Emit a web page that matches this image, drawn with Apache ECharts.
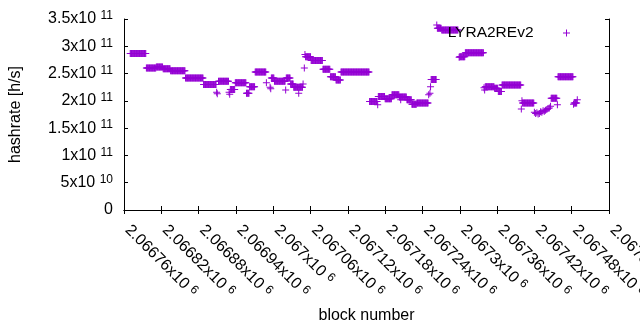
<!DOCTYPE html>
<html>
<head>
<meta charset="utf-8">
<script src="https://cdn.jsdelivr.net/npm/echarts@6/dist/echarts.min.js"></script>
<style>
  html, body { margin: 0; padding: 0; background: #fff; }
  #chart { width: 640px; height: 330px; }
</style>
</head>
<body>
<div id="chart"></div>
<script>
// hashrate plateaus: first block, last block, hashrate in 1e11 h/s
const RUN_START = [
  2066770, 2066796, 2066812, 2066823, 2066835, 2066859, 2066888, 2066909, 2066910, 2066912,
  2066929, 2066930, 2066931, 2066939, 2066957, 2066962, 2066971, 2066989, 2066995, 2066996,
  2066997, 2067002, 2067020, 2067021, 2067028, 2067033, 2067041, 2067048, 2067050, 2067051,
  2067052, 2067061, 2067080, 2067092, 2067101, 2067109, 2067155, 2067168, 2067169, 2067180,
  2067191, 2067203, 2067205, 2067215, 2067223, 2067231, 2067250, 2067252, 2067253, 2067254,
  2067263, 2067264, 2067271, 2067299, 2067300, 2067309, 2067339, 2067340, 2067341, 2067356,
  2067362, 2067368, 2067399, 2067400, 2067401, 2067420, 2067422, 2067424, 2067426, 2067428,
  2067430, 2067432, 2067434, 2067436, 2067438, 2067440, 2067442, 2067444, 2067446, 2067447,
  2067457, 2067458, 2067483, 2067484, 2067489
]
const RUN_END = [
  2066795, 2066811, 2066822, 2066834, 2066858, 2066887, 2066908, 2066909, 2066910, 2066928,
  2066929, 2066930, 2066938, 2066956, 2066961, 2066970, 2066988, 2066989, 2066995, 2066996,
  2067001, 2067019, 2067020, 2067027, 2067032, 2067047, 2067041, 2067048, 2067050, 2067051,
  2067060, 2067079, 2067091, 2067100, 2067108, 2067154, 2067167, 2067168, 2067179, 2067190,
  2067202, 2067214, 2067205, 2067222, 2067230, 2067249, 2067250, 2067252, 2067253, 2067262,
  2067263, 2067270, 2067297, 2067299, 2067308, 2067338, 2067339, 2067340, 2067355, 2067361,
  2067367, 2067398, 2067399, 2067400, 2067419, 2067420, 2067422, 2067424, 2067426, 2067428,
  2067430, 2067432, 2067434, 2067436, 2067438, 2067440, 2067442, 2067444, 2067446, 2067456,
  2067457, 2067482, 2067483, 2067488, 2067489
]
const RUN_VALUE = [
  2.87, 2.60, 2.62, 2.59, 2.55, 2.42, 2.30, 2.16, 2.13, 2.36,
  2.16, 2.12, 2.21, 2.33, 2.14, 2.26, 2.53, 2.33, 2.25, 2.22,
  2.42, 2.36, 2.20, 2.42, 2.31, 2.25, 2.14, 2.31, 2.60, 2.85,
  2.81, 2.74, 2.58, 2.44, 2.38, 2.53, 1.99, 1.93, 2.08, 2.04,
  2.11, 2.07, 2.02, 2.02, 1.94, 1.96, 2.11, 2.14, 2.26, 2.39,
  3.39, 3.33, 3.30, 2.80, 2.81, 2.88, 2.24, 2.20, 2.26, 2.23,
  2.17, 2.29, 1.85, 2.00, 1.96, 1.79, 1.77, 1.78, 1.76, 1.77,
  1.80, 1.79, 1.82, 1.81, 1.83, 1.84, 1.86, 1.87, 1.90, 2.05,
  1.93, 2.44, 1.94, 1.96, 2.02
]

const X_MIN = 2066760
const X_MAX = 2067540
const X_STEP = 60
const Y_MAX = 3.5e11
const Y_STEP = 5e10

const FONT = '"Liberation Sans", Arial, sans-serif'
const PLUS = 'path://M3,0H4V3H7V4H4V7H3V4H0V3H3Z'

// one point per block inside each plateau
const points = []
RUN_START.forEach((s, i) => {
  for (let b = s; b <= RUN_END[i]; b++) points.push([b, RUN_VALUE[i] * 1e11])
})

// gnuplot style "2.5x10^11"
function sciLabel(v) {
  if (v === 0) return '{m|0}'
  const exp = Math.floor(Math.log10(v) + 1e-9)
  const mant = parseFloat((v / Math.pow(10, exp)).toFixed(5))
  return '{m|' + mant + 'x10 }{s|' + exp + '}'
}

const RICH = {
  m: { fontFamily: FONT, fontSize: 16, lineHeight: 18, color: '#000' },
  s: { fontFamily: FONT, fontSize: 12, lineHeight: 14, color: '#000', verticalAlign: 'top' },
}

const frame = { show: true, lineStyle: { color: '#000', width: 1 } }
const tick = { show: true, inside: true, length: 4, lineStyle: { color: '#000' } }

const chart = echarts.init(document.getElementById('chart'), null, { renderer: 'canvas' })
chart.setOption({
  animation: false,
  backgroundColor: '#fff',
  grid: { left: 124, right: 31, top: 19, bottom: 120, outerBoundsMode: 'none', containLabel: false },
  legend: {
    right: 65,
    top: 20,
    align: 'right',
    itemWidth: 56,
    itemHeight: 7,
    textStyle: { fontFamily: FONT, fontSize: 15.5, color: '#000' },
    data: ['LYRA2REv2'],
  },
  xAxis: [
    {
      type: 'value',
      min: X_MIN,
      max: X_MAX,
      interval: X_STEP,
      name: 'block number',
      nameLocation: 'middle',
      nameGap: 97,
      nameTextStyle: { fontFamily: FONT, fontSize: 16, color: '#000' },
      axisLine: frame,
      axisTick: tick,
      splitLine: { show: false },
      axisLabel: {
        rotate: -45,
        margin: 14,
        padding: [0, 0, 0, 5],
        formatter: sciLabel,
        rich: RICH,
      },
    },
    {
      type: 'value',
      position: 'top',
      min: X_MIN,
      max: X_MAX,
      interval: X_STEP,
      axisLine: frame,
      axisTick: tick,
      axisLabel: { show: false },
      splitLine: { show: false },
    },
  ],
  yAxis: [
    {
      type: 'value',
      min: 0,
      max: Y_MAX,
      interval: Y_STEP,
      name: 'hashrate [h/s]',
      nameLocation: 'middle',
      nameGap: 100,
      nameTextStyle: { fontFamily: FONT, fontSize: 16, color: '#000' },
      axisLine: frame,
      axisTick: tick,
      splitLine: { show: false },
      axisLabel: { margin: 11, formatter: sciLabel, rich: RICH },
    },
    {
      type: 'value',
      position: 'right',
      min: 0,
      max: Y_MAX,
      interval: Y_STEP,
      axisLine: frame,
      axisTick: tick,
      axisLabel: { show: false },
      splitLine: { show: false },
    },
  ],
  series: [
    {
      name: 'LYRA2REv2',
      type: 'scatter',
      symbol: PLUS,
      symbolSize: 7,
      symbolKeepAspect: true,
      itemStyle: { color: '#9400d3', opacity: 1 },
      data: points,
    },
  ],
})
</script>
</body>
</html>
